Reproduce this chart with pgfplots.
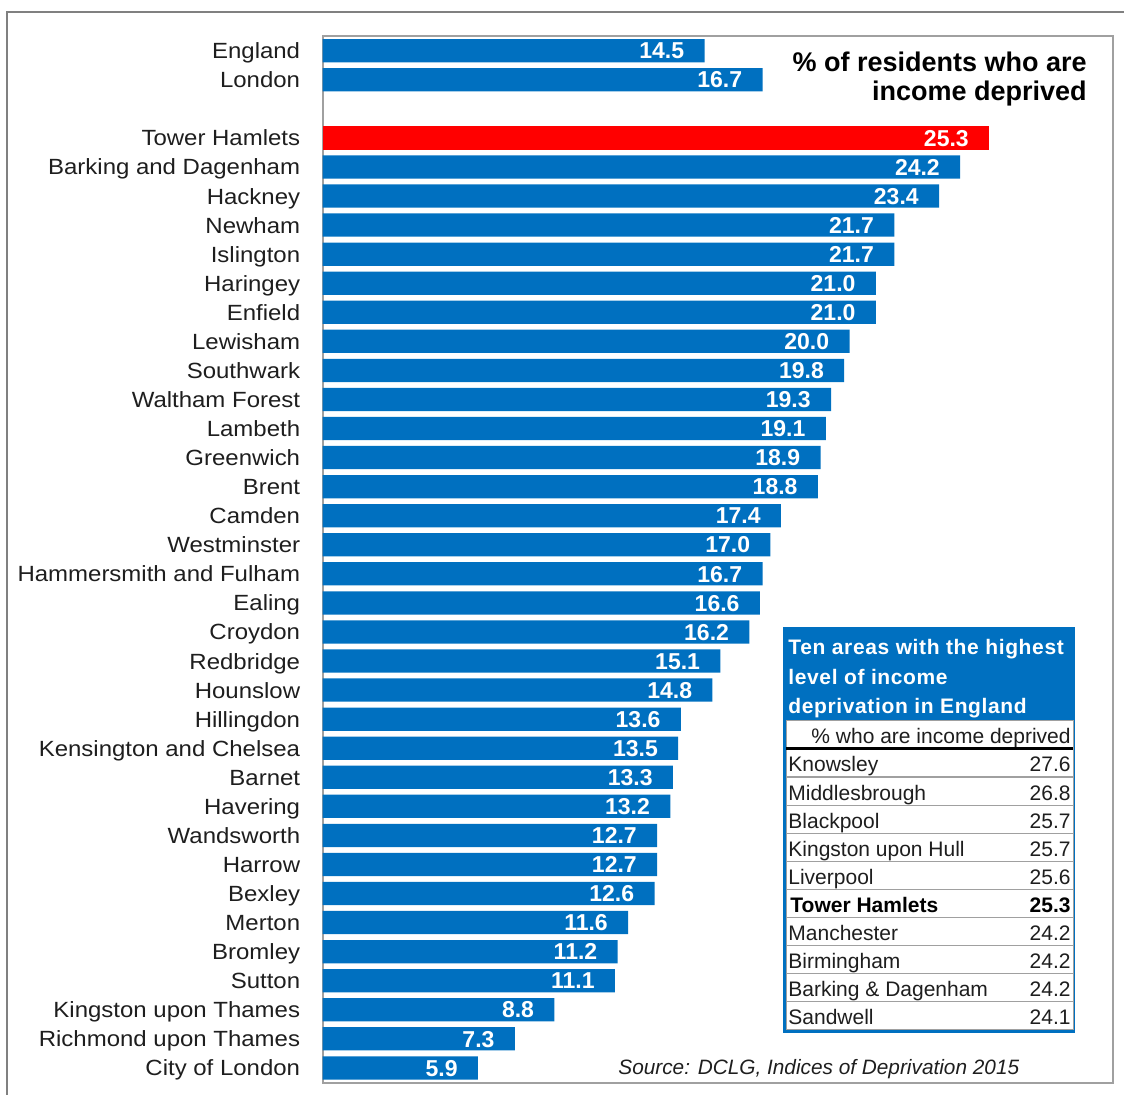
\documentclass[border=0pt]{standalone}
\usepackage{pgfplots}
\pgfplotsset{compat=1.18}
\usepackage{fontspec}
\setmainfont[FakeStretch=1.09]{Liberation Sans}
\newfontfamily\plainfont{Liberation Sans}
\newfontfamily\hdrfont[LetterSpace=3]{Liberation Sans}
\definecolor{barblue}{RGB}{0,112,192}
\definecolor{barred}{RGB}{255,0,0}
\definecolor{framegray}{RGB}{160,160,160}
\definecolor{outergray}{RGB}{128,128,128}
\definecolor{labelc}{RGB}{30,30,30}
\begin{document}
\begin{tikzpicture}
\path[use as bounding box] (0,0) rectangle (562pt,547.5pt);
\begin{axis}[
  at={(161.25pt,6pt)}, anchor=south west,
  scale only axis, width=395.25pt, height=523.25pt,
  xbar, bar width=0.8, bar shift=0pt,
  xmin=0, xmax=30, ymin=-0.49, ymax=35.52, y dir=reverse,
  axis line style={draw=framegray, line width=1pt},
  xtick=\empty,
  ytick={0,1,3,4,...,35},
  yticklabels={England,London,Tower Hamlets,Barking and Dagenham,Hackney,Newham,Islington,Haringey,Enfield,Lewisham,Southwark,Waltham Forest,Lambeth,Greenwich,Brent,Camden,Westminster,Hammersmith and Fulham,Ealing,Croydon,Redbridge,Hounslow,Hillingdon,Kensington and Chelsea,Barnet,Havering,Wandsworth,Harrow,Bexley,Merton,Bromley,Sutton,Kingston upon Thames,Richmond upon Thames,City of London},
  major tick length=0pt,
  yticklabel style={font=\fontsize{11}{13}\selectfont, text=labelc, inner sep=0pt, xshift=-11pt, text height=8pt, text depth=0pt},
  point meta=x,
  nodes near coords,
  every node near coord/.append style={anchor=east, xshift=-10pt, inner sep=0pt, text=white, font=\plainfont\bfseries\fontsize{11.5}{12}\selectfont, text height=8.2pt, text depth=0pt},
  /pgf/number format/.cd, fixed, fixed zerofill, precision=1, assume math mode=true,
]
\addplot[fill=barblue, draw=none] coordinates {
(14.5,0) (16.7,1)
(24.2,4) (23.4,5) (21.7,6) (21.7,7) (21.0,8) (21.0,9) (20.0,10) (19.8,11)
(19.3,12) (19.1,13) (18.9,14) (18.8,15) (17.4,16) (17.0,17) (16.7,18) (16.6,19)
(16.2,20) (15.1,21) (14.8,22) (13.6,23) (13.5,24) (13.3,25) (13.2,26) (12.7,27)
(12.7,28) (12.6,29) (11.6,30) (11.2,31) (11.1,32) (8.8,33) (7.3,34) (5.9,35)
};
\addplot[fill=barred, draw=none] coordinates {(25.3,3)};
\end{axis}
\begin{scope}[x=0.5pt,y=-0.5pt,shift={(0pt,547.5pt)}]
  % outer frame
  \draw[outergray, line width=1pt] (7,1095) -- (7,12) -- (1124,12);
  % headline text
  \node[anchor=base east, inner sep=0pt, font=\plainfont\bfseries\fontsize{13.5}{15}\selectfont] at (1087,72) {\% of residents who are};
  \node[anchor=base east, inner sep=0pt, font=\plainfont\bfseries\fontsize{13.5}{15}\selectfont] at (1087,101) {income deprived};
  % source
  \node[anchor=base west, inner sep=0pt, font=\plainfont\itshape\fontsize{10.4}{12}\selectfont, text=labelc] at (618,1075) {Source: DCLG, Indices of Deprivation 2015};
  % inset table
  \fill[barblue] (783,627) rectangle (1075,1033);
  \fill[white] (786,721) rectangle (1073,1030);
  \draw[framegray, line width=0.5pt] (786,721) rectangle (1073,1030);
  \node[anchor=base west, inner sep=0pt, text=white, font=\hdrfont\bfseries\fontsize{10.5}{12}\selectfont] at (788,655) {Ten areas with the highest};
  \node[anchor=base west, inner sep=0pt, text=white, font=\hdrfont\bfseries\fontsize{10.5}{12}\selectfont] at (788,685) {level of income};
  \node[anchor=base west, inner sep=0pt, text=white, font=\hdrfont\bfseries\fontsize{10.5}{12}\selectfont] at (788,714) {deprivation in England};
  \node[anchor=base east, inner sep=0pt, font=\plainfont\fontsize{10.5}{12}\selectfont, text=labelc] at (1071,744) {\% who are income deprived};
  \draw[black, line width=1.2pt] (786,748.5) -- (1073,748.5);
  \foreach \k in {1,...,9} {
    \draw[framegray, line width=0.6pt] (786,{749+28.1*\k}) -- (1073,{749+28.1*\k});
  }
  \foreach \nm/\val [count=\k from 0] in {Knowsley/27.6,Middlesbrough/26.8,Blackpool/25.7,Kingston upon Hull/25.7,Liverpool/25.6,{}/{},Manchester/24.2,Birmingham/24.2,Barking \& Dagenham/24.2,Sandwell/24.1} {
    \node[anchor=base west, inner sep=0pt, font=\plainfont\fontsize{10.5}{12}\selectfont, text=labelc] at (788,{772+28.1*\k}) {\nm};
    \node[anchor=base east, inner sep=0pt, font=\plainfont\fontsize{10.5}{12}\selectfont, text=labelc] at (1071,{772+28.1*\k}) {\val};
  }
  \node[anchor=base west, inner sep=0pt, font=\plainfont\bfseries\fontsize{10.5}{12}\selectfont] at (790,{772+28.1*5}) {Tower Hamlets};
  \node[anchor=base east, inner sep=0pt, font=\plainfont\bfseries\fontsize{10.5}{12}\selectfont] at (1071,{772+28.1*5}) {25.3};
\end{scope}
\end{tikzpicture}
\end{document}
